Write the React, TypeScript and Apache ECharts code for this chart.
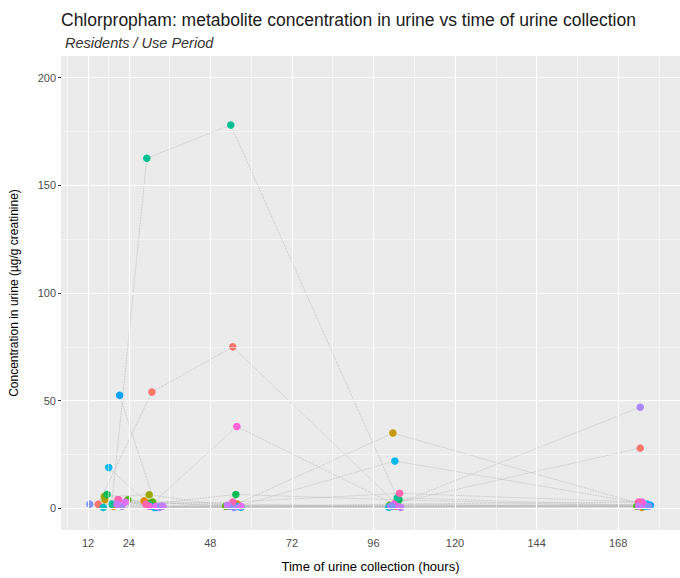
import React, { useEffect, useRef } from "react";
import * as echarts from "echarts";

const titleText = "Chlorpropham: metabolite concentration in urine vs time of urine collection";
const subtitleText = "Residents / Use Period";
const xAxisTitle = "Time of urine collection (hours)";
const yAxisTitle = "Concentration in urine (µg/g creatinine)";

const subjectIds = [
  "S01", "S02", "S03", "S04", "S05", "S06", "S07", "S08",
  "S09", "S10", "S11", "S12", "S13", "S14", "S15", "S16",
];

const palette = [
  "#F8766D", "#E58700", "#C49A00", "#99A800", "#53B400", "#00BC56", "#00C094", "#00BFC4",
  "#00B6EB", "#06A4FF", "#A58AFF", "#DF70F8", "#FB61D7", "#FF65AC", "#8494FF", "#C77CFF",
];

// hours of collection per subject
const hours: number[][] = [
  [15.0, 30.8, 54.6, 102.5, 174.5],
  [19.5, 28.5, 56.0, 102.5, 175.0],
  [17.0, 29.5, 55.0, 101.7, 175.0],
  [16.8, 30.0, 54.0, 103.0, 176.0],
  [23.7, 31.0, 52.5, 100.8, 173.5],
  [17.6, 30.0, 55.5, 103.5, 175.5],
  [19.0, 29.3, 54.0, 103.0, 174.0],
  [16.5, 31.5, 57.0, 100.5, 176.0],
  [18.1, 30.5, 56.0, 102.3, 176.5],
  [21.3, 32.0, 55.0, 101.0, 177.5],
  [22.0, 33.0, 55.0, 101.0, 174.5],
  [23.0, 32.0, 57.0, 103.0, 175.5],
  [21.0, 30.0, 55.8, 102.0, 175.0],
  [20.8, 29.0, 54.6, 103.7, 174.0],
  [12.5, 33.5, 53.5, 101.5, 177.0],
  [20.5, 34.0, 53.0, 104.0, 174.0],
];

// concentration (µg/g creatinine) per subject
const conc: number[][] = [
  [2.0, 54.0, 75.0, 2.5, 28.0],
  [1.0, 3.5, 2.0, 1.0, 0.5],
  [4.0, 2.5, 1.5, 35.0, 2.0],
  [5.5, 6.4, 1.0, 2.0, 1.0],
  [4.0, 3.0, 1.0, 1.5, 1.0],
  [6.5, 2.0, 6.5, 4.0, 1.0],
  [2.0, 162.5, 178.0, 5.0, 1.5],
  [0.5, 0.5, 0.5, 0.5, 1.0],
  [19.0, 1.0, 1.0, 22.0, 2.0],
  [52.5, 0.5, 0.5, 1.0, 1.5],
  [1.0, 0.5, 0.5, 1.0, 47.0],
  [3.0, 1.0, 1.0, 1.0, 2.0],
  [4.0, 1.0, 38.0, 2.0, 3.0],
  [4.0, 2.0, 3.0, 7.0, 3.0],
  [2.0, 1.0, 1.0, 1.0, 1.0],
  [2.0, 1.0, 1.5, 0.5, 1.0],
];

const xTicks = [12, 24, 48, 72, 96, 120, 144, 168];
const yTicks = [0, 50, 100, 150, 200];
const xMinorGrid = [6, 18, 36, 60, 84, 108, 132, 156, 180];
const yMinorGrid = [25, 75, 125, 175];

const FONT = '"Liberation Sans", Arial, sans-serif';

export default function App() {
  const ref = useRef<HTMLDivElement>(null);

  useEffect(() => {
    document.body.style.margin = "0";
    const chart = echarts.init(ref.current!, null, { renderer: "svg" });

    const gridLines = [
      ...xTicks.map((v) => ({ xAxis: v, lineStyle: { width: 1.1 } })),
      ...xMinorGrid.map((v) => ({ xAxis: v, lineStyle: { width: 0.5 } })),
      ...yTicks.map((v) => ({ yAxis: v, lineStyle: { width: 1.1 } })),
      ...yMinorGrid.map((v) => ({ yAxis: v, lineStyle: { width: 0.5 } })),
    ];

    const series: any[] = [
      {
        type: "scatter",
        data: [[50, 50]],
        symbolSize: 0,
        itemStyle: { opacity: 0 },
        silent: true,
        z: 1,
        markLine: {
          silent: true,
          symbol: ["none", "none"],
          label: { show: false },
          lineStyle: { color: "#FFFFFF", type: "solid" },
          emphasis: { disabled: true },
          data: gridLines,
        },
      },
    ];

    subjectIds.forEach((id, i) => {
      const pts = hours[i].map((h, j) => [h, conc[i][j]]);
      series.push({
        name: id + "-line",
        type: "line",
        data: pts,
        showSymbol: false,
        symbol: "none",
        silent: true,
        lineStyle: { color: "#B8B8B8", width: 0.8, type: "dotted" },
        z: 2,
      });
    });
    subjectIds.forEach((id, i) => {
      const pts = hours[i].map((h, j) => [h, conc[i][j]]);
      series.push({
        name: id,
        type: "scatter",
        data: pts,
        symbolSize: 7.5,
        itemStyle: { color: palette[i], opacity: 1 },
        z: 3,
      });
    });

    chart.setOption({
      animation: false,
      backgroundColor: "#FFFFFF",
      textStyle: { fontFamily: FONT },
      grid: {
        left: 60,
        right: 0,
        top: 56,
        bottom: 40,
        show: true,
        backgroundColor: "#EBEBEB",
        borderWidth: 0,
        containLabel: false,
      },
      graphic: [
        {
          type: "text",
          left: 61,
          top: 11,
          style: { text: titleText, font: "17.5px " + FONT, fill: "#1A1A1A" },
        },
        {
          type: "text",
          left: 65,
          top: 35,
          style: { text: subtitleText, font: "italic 14.5px " + FONT, fill: "#333333" },
        },
      ],
      xAxis: {
        type: "value",
        min: 4.05,
        max: 186.2,
        axisLine: { show: false },
        axisTick: { show: true, length: 3, customValues: xTicks, lineStyle: { color: "#333333" } },
        axisLabel: { customValues: xTicks, color: "#4D4D4D", fontSize: 11, margin: 7, fontFamily: FONT },
        splitLine: { show: false },
        name: xAxisTitle,
        nameLocation: "middle",
        nameGap: 30,
        nameTextStyle: { fontSize: 13, color: "#000000", fontFamily: FONT },
      },
      yAxis: {
        type: "value",
        min: -10,
        max: 210,
        axisLine: { show: false },
        axisTick: { show: true, length: 3, customValues: yTicks, lineStyle: { color: "#333333" } },
        axisLabel: { customValues: yTicks, color: "#4D4D4D", fontSize: 11, margin: 5, fontFamily: FONT },
        splitLine: { show: false },
        name: yAxisTitle,
        nameLocation: "middle",
        nameGap: 41,
        nameTextStyle: { fontSize: 12, color: "#000000", fontFamily: FONT },
      },
      series,
    });

    return () => chart.dispose();
  }, []);

  return <div ref={ref} style={{ width: 680, height: 578 }} />;
}
